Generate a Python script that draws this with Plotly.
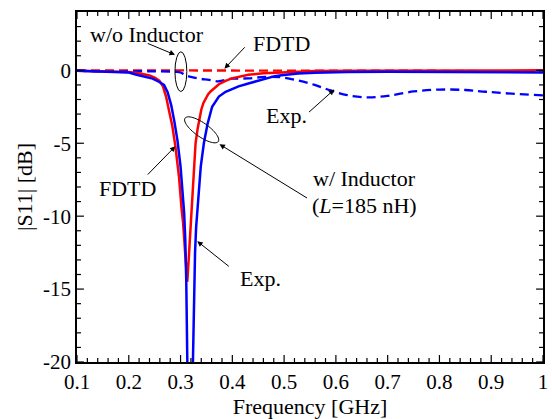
import numpy as np
import plotly.graph_objects as go

# ---------------- data ----------------
# FDTD, w/o inductor (red dashed)
fdtd_wo_f = [0.10, 0.30, 0.60, 0.80, 0.90, 1.00]
fdtd_wo_s = [0.00, 0.00, 0.00, -0.03, -0.06, -0.10]

# Exp., w/o inductor (blue dashed)
exp_wo_f = [0.10, 0.12, 0.15, 0.20, 0.25, 0.29, 0.30, 0.31, 0.32, 0.336, 0.355, 0.374, 0.39,
            0.399, 0.431, 0.463, 0.495, 0.527, 0.559, 0.590, 0.622, 0.66, 0.70, 0.75, 0.80,
            0.85, 0.89, 0.94, 1.00]
exp_wo_s = [0.00, -0.05, -0.08, -0.06, -0.07, -0.10, -0.15, -0.35, -0.45, -0.57, -0.65, -0.75, -0.62,
            -0.57, -0.55, -0.45, -0.48, -0.70, -1.00, -1.38, -1.70, -1.85, -1.75, -1.45, -1.32,
            -1.35, -1.47, -1.60, -1.72]

# FDTD, w/ inductor (red solid)
fdtd_w_f = [0.10, 0.15, 0.20, 0.22, 0.24, 0.25, 0.259, 0.266, 0.272, 0.278, 0.284, 0.290, 0.297,
            0.302, 0.305, 0.309, 0.313, 0.316, 0.320, 0.323, 0.326, 0.329, 0.333, 0.336, 0.340,
            0.344, 0.348, 0.353, 0.358, 0.367, 0.374, 0.387, 0.399, 0.431, 0.46, 0.495, 0.56,
            0.65, 0.80, 1.00]
fdtd_w_s = [-0.02, -0.05, -0.12, -0.20, -0.35, -0.50, -0.70, -1.10, -1.80, -2.80, -3.80, -5.20, -7.30,
            -9.50, -10.50, -12.60, -14.50, -12.80, -10.20, -8.40, -6.80, -5.00, -4.00, -3.30, -2.70,
            -2.25, -1.95, -1.65, -1.45, -1.15, -0.95, -0.72, -0.55, -0.30, -0.20, -0.15, -0.05,
            -0.02, 0.00, 0.00]

# Exp., w/ inductor (blue solid)
exp_w_f = [0.10, 0.15, 0.20, 0.215, 0.246, 0.259, 0.268, 0.275, 0.282, 0.288, 0.294, 0.300, 0.304,
           0.307, 0.309, 0.311, 0.313, 0.316, 0.3185, 0.321, 0.324, 0.326, 0.328, 0.330, 0.334,
           0.339, 0.345, 0.352, 0.361, 0.374, 0.387, 0.399, 0.412, 0.431, 0.444, 0.463, 0.482,
           0.495, 0.527, 0.559, 0.578, 0.622, 0.70, 0.80, 0.90, 1.00]
exp_w_s = [-0.02, -0.06, -0.15, -0.30, -0.57, -0.80, -1.00, -1.50, -2.40, -3.50, -4.80, -6.60, -8.20,
           -9.80, -11.50, -14.40, -19.80, -26.0, -30.0, -26.0, -19.80, -14.40, -12.50, -10.80, -8.80,
           -6.60, -5.00, -3.70, -2.50, -1.80, -1.47, -1.30, -1.10, -0.90, -0.78, -0.60, -0.40,
           -0.34, -0.22, -0.16, -0.14, -0.11, -0.10, -0.10, -0.12, -0.15]

# tick values / labels
x_major = [0.1, 0.2, 0.3, 0.4, 0.5, 0.6, 0.7, 0.8, 0.9, 1.0]
x_labels = ["0.1", "0.2", "0.3", "0.4", "0.5", "0.6", "0.7", "0.8", "0.9", "1"]
y_major = [-20, -15, -10, -5, 0]
y_labels = ["-20", "-15", "-10", "-5", "0"]
x_minor_step = 0.02
y_minor_step = 1

# ---------------- layout helpers ----------------
XR = [0.1, 1.0]
YR = [-20, 4]
L, T, W, H = 77, 12, 471, 352
FONT = "Liberation Serif, Times New Roman, serif"
RED = "#ff0000"
BLUE = "#0000ff"
XPX = W / (XR[1] - XR[0])   # px per GHz
YPX = H / (YR[1] - YR[0])   # px per dB


def dx(px):
    return XR[0] + (px - L) / XPX


def dy(py):
    return YR[1] - (py - T) / YPX


fig = go.Figure()
fig.add_trace(go.Scatter(x=fdtd_wo_f, y=fdtd_wo_s, mode="lines",
                         line=dict(color=RED, width=2.3, dash="9px,5px"), showlegend=False))
fig.add_trace(go.Scatter(x=exp_wo_f, y=exp_wo_s, mode="lines", line_shape="spline",
                         line=dict(color=BLUE, width=2.3, dash="9px,5px"), showlegend=False))
fig.add_trace(go.Scatter(x=fdtd_w_f, y=fdtd_w_s, mode="lines",
                         line=dict(color=RED, width=2.5), showlegend=False))
fig.add_trace(go.Scatter(x=exp_w_f, y=exp_w_s, mode="lines",
                         line=dict(color=BLUE, width=2.5), showlegend=False))

# ---------------- annotations ----------------
texts = [
    ("w/o Inductor", 148, 35),
    ("FDTD", 284, 44),
    ("Exp.", 289, 116),
    ("w/ Inductor", 368, 179),
    ("(<i>L</i>=185 nH)", 368, 207),
    ("FDTD", 128, 190),
    ("Exp.", 262, 280),
]
annotations = []
for t, px, py in texts:
    annotations.append(dict(x=dx(px), y=dy(py), xref="x", yref="y", text=t, showarrow=False,
                            xanchor="center", yanchor="middle",
                            font=dict(family=FONT, size=22, color="black")))

arrows = [  # (tail px, tail py, head px, head py)
    (147, 43, 176, 55),
    (248, 46, 226, 69),
    (310, 114, 337, 90),
    (311, 200, 221, 145),
    (147, 177, 176.5, 147),
    (232, 269, 198.5, 242.5),
]
for tx, ty, hx, hy in arrows:
    annotations.append(dict(x=dx(hx), y=dy(hy), xref="x", yref="y", ax=dx(tx), ay=dy(ty),
                            axref="x", ayref="y", text="", showarrow=True, arrowhead=2,
                            arrowsize=1.1, arrowwidth=1, arrowcolor="black", standoff=0))

# ellipses
shapes = [dict(type="circle", xref="x", yref="y", x0=dx(176), x1=dx(188), y0=dy(52), y1=dy(92),
               line=dict(color="black", width=1))]
cx, cy, a, b, th = 203, 130.5, 20.5, 7, np.deg2rad(35)
tt = np.linspace(0, 2 * np.pi, 60)
epx = cx + a * np.cos(tt) * np.cos(th) - b * np.sin(tt) * np.sin(th)
epy = cy + a * np.cos(tt) * np.sin(th) + b * np.sin(tt) * np.cos(th)
path = "M " + " L ".join(f"{dx(u):.5f},{dy(v):.4f}" for u, v in zip(epx, epy)) + " Z"
shapes.append(dict(type="path", xref="x", yref="y", path=path, line=dict(color="black", width=1)))

# ---------------- inward tick marks on all four sides (from the tick lists) ----------------
x_minor = [v for v in np.round(np.arange(XR[0], XR[1] + 1e-9, x_minor_step), 4)
           if min(abs(v - m) for m in x_major) > 1e-6]
y_minor = [v for v in np.arange(YR[0], YR[1] + 1e-9, y_minor_step)
           if min(abs(v - m) for m in y_major) > 1e-6 and YR[0] < v < YR[1]]
for vals, ln in ((x_major, 7), (x_minor, 4)):
    for v in vals:
        for base, sgn in ((YR[0], 1), (YR[1], -1)):
            shapes.append(dict(type="line", xref="x", yref="y", x0=v, x1=v, y0=base,
                               y1=base + sgn * ln / YPX, layer="above",
                               line=dict(color="black", width=1.2)))
for vals, ln in ((y_major, 7), (y_minor, 4)):
    for v in vals:
        for base, sgn in ((XR[0], 1), (XR[1], -1)):
            shapes.append(dict(type="line", xref="x", yref="y", y0=v, y1=v, x0=base,
                               x1=base + sgn * ln / XPX, layer="above",
                               line=dict(color="black", width=1.2)))

tickfont = dict(family=FONT, size=21, color="black")
common = dict(showline=True, linecolor="black", linewidth=1.5, showgrid=False, zeroline=False,
              mirror=True, ticks="", tickfont=tickfont)

fig.update_layout(
    width=552, height=419,
    margin=dict(l=L, r=552 - L - W, t=T, b=419 - T - H),
    paper_bgcolor="white", plot_bgcolor="white",
    font=dict(family=FONT, color="black"),
    annotations=annotations, shapes=shapes, hovermode=False,
    xaxis=dict(range=XR, tickmode="array", tickvals=x_major, ticktext=x_labels,
               title=dict(text="Frequency [GHz]", font=dict(family=FONT, size=22), standoff=6),
               **common),
    yaxis=dict(range=YR, tickmode="array", tickvals=y_major, ticktext=y_labels,
               title=dict(text="|S11| [dB]", font=dict(family=FONT, size=22), standoff=4),
               **common),
)

fig.write_html("out.html", config={"displayModeBar": False},
               post_script="document.body.style.margin='0px';")
